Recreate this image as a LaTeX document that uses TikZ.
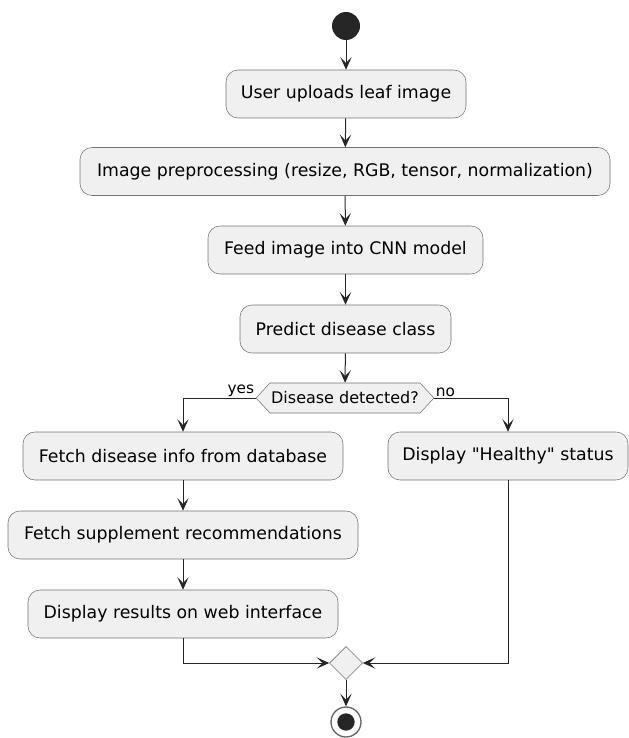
\documentclass[tikz,border=0pt]{standalone}
\usepackage{fontspec}
\setmainfont{DejaVu Sans}
\usetikzlibrary{arrows.meta,shapes.geometric,shapes.symbols}

\begin{document}
\begin{tikzpicture}[x=0.75pt, y=-0.75pt,
    act/.style={draw=black!55, fill=black!6, rounded corners=9pt, minimum height=36pt, inner xsep=0pt, font=\fontsize{13}{15}\selectfont},
    cond/.style={draw=black!55, fill=black!6, shape=signal, signal to=west and east, signal pointer angle=94, minimum height=22.5pt, minimum width=133.5pt, inner sep=0pt, font=\fontsize{12}{14}\selectfont},
    merge/.style={draw=black!55, fill=black!6, diamond, minimum size=24.75pt, inner sep=0pt},
    lbl/.style={inner sep=1pt, font=\fontsize{11.5}{13}\selectfont},
    flow/.style={draw=black!85, line width=0.75pt, -{Stealth[length=9.5pt,width=8.5pt,inset=4.5pt]}}]
    \useasboundingbox (0,0) rectangle (628,738);
    % start and actions
    \node[circle, fill=black!85, minimum size=21pt, inner sep=0pt] (start) at (346,26) {};
    \node[act, minimum width=180pt] (upload) at (346,94) {User uploads leaf image};
    \node[act, minimum width=397.5pt] (prep) at (345,171.5) {Image preprocessing (resize, RGB, tensor, normalization)};
    \node[act, minimum width=206.25pt] (feed) at (345.5,250) {Feed image into CNN model};
    \node[act, minimum width=158.25pt] (predict) at (345.5,329) {Predict disease class};
    \node[cond] (detect) at (345,398) {Disease detected?};
    % branches
    \node[act, minimum width=240pt] (info) at (183,456) {Fetch disease info from database};
    \node[act, minimum width=180pt] (healthy) at (508,456) {Display \textquotedbl Healthy\textquotedbl\ status};
    \node[act, minimum width=262.5pt] (supp) at (183,535) {Fetch supplement recommendations};
    \node[act, minimum width=232.5pt] (show) at (183,614) {Display results on web interface};
    \node[merge] (join) at (346,663) {};
    \node[circle, draw=black!60, line width=1pt, fill=white, minimum size=22.5pt, inner sep=0pt] (stop) at (346,722) {};
    \fill[black!85] (stop.center) circle (6.5pt);
    \node[lbl, anchor=south east] at (detect.west) {yes};
    \node[lbl, anchor=south west] at (detect.east) {no};
    % connectors
    \draw[flow] (start) -- (upload);
    \draw[flow] (upload) -- (prep);
    \draw[flow] (prep) -- (feed);
    \draw[flow] (feed) -- (predict);
    \draw[flow] (predict) -- (detect);
    \draw[flow] (detect.west) -| (info.north);
    \draw[flow] (detect.east) -| (healthy.north);
    \draw[flow] (info) -- (supp);
    \draw[flow] (supp) -- (show);
    \draw[flow] (show.south) |- (join.west);
    \draw[flow] (healthy.south) |- (join.east);
    \draw[flow] (join) -- (stop);
\end{tikzpicture}
\end{document}
